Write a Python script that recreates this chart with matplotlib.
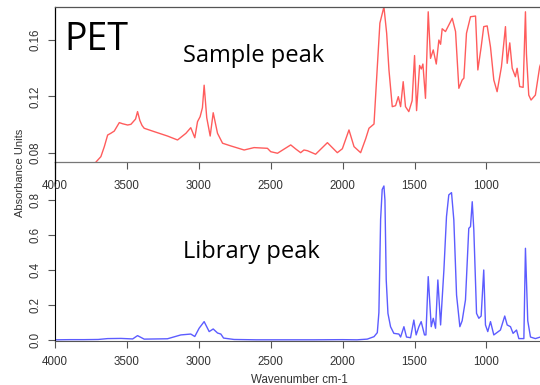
import matplotlib
matplotlib.use('Agg')
from matplotlib import pyplot as plt
from matplotlib.lines import Line2D

# sample (red) spectrum
sample_wn = [3730, 3715, 3681, 3657, 3634, 3611, 3588, 3553, 3530, 3495, 3472, 3440, 3426,
             3410, 3395, 3380, 3310, 3218, 3148, 3090, 3056, 3028, 3009, 2991, 2975, 2963,
             2945, 2921, 2900, 2870, 2835, 2778, 2685, 2616, 2523, 2500, 2453, 2361, 2326,
             2292, 2269, 2245, 2188, 2106, 2037, 2002, 1956, 1921, 1875, 1840, 1817, 1782,
             1759, 1741, 1713, 1694, 1678, 1655, 1632, 1613, 1597, 1579, 1563, 1540, 1517,
             1500, 1486, 1465, 1453, 1442, 1424, 1405, 1389, 1370, 1349, 1331, 1319, 1308,
             1285, 1238, 1215, 1192, 1169, 1157, 1139, 1111, 1076, 1060, 1037, 1019, 995,
             972, 949, 926, 896, 868, 856, 838, 821, 799, 787, 769, 745, 729, 722, 706, 690,
             660, 630, 600]
sample_abs = [0.0700, 0.0736, 0.0774, 0.0845, 0.0927, 0.0940, 0.0955, 0.1015, 0.1007, 0.0998,
              0.1003, 0.1040, 0.1093, 0.1030, 0.0995, 0.0975, 0.0951, 0.0920, 0.0892, 0.0939,
              0.0979, 0.0908, 0.1022, 0.1057, 0.1120, 0.1280, 0.1050, 0.0920, 0.1085, 0.0939,
              0.0869, 0.0850, 0.0821, 0.0838, 0.0833, 0.0809, 0.0798, 0.0857, 0.0828, 0.0802,
              0.0821, 0.0816, 0.0791, 0.0873, 0.0802, 0.0830, 0.0963, 0.0845, 0.0802, 0.0900,
              0.0975, 0.1005, 0.1410, 0.1720, 0.1835, 0.1648, 0.1388, 0.1128, 0.1135, 0.1199,
              0.1128, 0.1305, 0.1128, 0.1093, 0.1170, 0.1490, 0.1100, 0.1420, 0.1395, 0.1430,
              0.1187, 0.1800, 0.1470, 0.1530, 0.1430, 0.1600, 0.1570, 0.1680, 0.1660, 0.1754,
              0.1660, 0.1258, 0.1317, 0.1330, 0.1648, 0.1765, 0.1770, 0.1388, 0.1550, 0.1695,
              0.1700, 0.1550, 0.1317, 0.1234, 0.1410, 0.1695, 0.1435, 0.1580, 0.1400, 0.1340,
              0.1400, 0.1270, 0.1265, 0.1800, 0.1500, 0.1210, 0.1175, 0.1210, 0.1410, 0.1500]

# library (blue) spectrum
library_wn = [4000, 3900, 3800, 3700, 3634, 3541, 3460, 3426, 3380, 3218, 3125, 3056, 3028,
              2998, 2963, 2928, 2900, 2870, 2847, 2828, 2755, 2600, 2400, 2200, 2000, 1900,
              1829, 1782, 1759, 1748, 1736, 1725, 1713, 1706, 1697, 1685, 1667, 1644, 1609,
              1597, 1574, 1556, 1528, 1505, 1489, 1470, 1454, 1431, 1421, 1405, 1384, 1370,
              1354, 1338, 1319, 1296, 1278, 1262, 1243, 1227, 1208, 1185, 1169, 1146, 1123,
              1111, 1099, 1088, 1069, 1053, 1037, 1019, 1007, 991, 972, 949, 903, 873, 856,
              833, 815, 791, 775, 740, 729, 713, 694, 660, 625, 600]
library_abs = [0.001, 0.002, 0.002, 0.003, 0.008, 0.009, 0.006, 0.025, 0.005, 0.007, 0.029,
               0.034, 0.020, 0.067, 0.105, 0.048, 0.063, 0.040, 0.034, 0.011, 0.003, 0.001,
               0.001, 0.001, 0.002, 0.001, 0.005, 0.019, 0.042, 0.157, 0.690, 0.860, 0.880,
               0.800, 0.343, 0.152, 0.076, 0.038, 0.034, 0.017, 0.076, 0.017, 0.013, 0.114,
               0.029, 0.076, 0.105, 0.029, 0.029, 0.362, 0.076, 0.124, 0.067, 0.343, 0.086,
               0.400, 0.705, 0.829, 0.842, 0.686, 0.257, 0.076, 0.110, 0.229, 0.638, 0.648,
               0.790, 0.629, 0.152, 0.124, 0.137, 0.400, 0.086, 0.048, 0.105, 0.029, 0.057,
               0.137, 0.086, 0.076, 0.038, 0.057, 0.008, 0.008, 0.524, 0.110, 0.017, 0.008,
               0.017, 0.010]

x_ticks = [4000, 3500, 3000, 2500, 2000, 1500, 1000]
top_yticks = [0.08, 0.12, 0.16]
bottom_yticks = [0.0, 0.2, 0.4, 0.6, 0.8]

W, H = 540, 385
fig = plt.figure(figsize=(W / 100, H / 100), dpi=100)

def px(x0, y0, x1, y1):
    # pixel box (left, top, right, bottom) -> figure fraction rect
    return [x0 / W, 1 - y1 / H, (x1 - x0) / W, (y1 - y0) / H]

tick_font = dict(family='Liberation Sans', size=8.3, color='#333333')

ax2 = fig.add_axes(px(55, 183, 544, 340.7))
ax2.set_facecolor('none')
ax2.plot(library_wn, library_abs, color='#5c5cff', lw=1.0)
ax2.set_xlim(4000, 600)
ax2.set_ylim(-0.004, 0.897)
ax2.set_xticks(x_ticks)
ax2.set_yticks(bottom_yticks)
ax2.set_yticklabels([f'{v:.1f}' for v in bottom_yticks], rotation=90, va='center', **tick_font)
ax2.set_xticklabels([str(v) for v in x_ticks], **tick_font)
ax2.tick_params(axis='x', length=5, width=0.8, pad=6, color='#555555')
ax2.tick_params(axis='y', length=5, width=0.8, pad=5, color='#555555')
ax2.spines['top'].set_visible(False)
ax2.spines['right'].set_visible(False)
ax2.spines['left'].set_color('black')
ax2.spines['bottom'].set_color('#555555')
ax2.set_xlabel('Wavenumber cm-1', fontfamily='Liberation Sans', fontsize=8.3,
               color='#333333', labelpad=4)

ax1 = fig.add_axes(px(55, 7, 544, 162))
ax1.set_facecolor('none')
ax1.plot(sample_wn, sample_abs, color='#ff5c5c', lw=1.0)
ax1.set_xlim(4000, 600)
ax1.set_ylim(0.0736, 0.1834)
ax1.set_xticks(x_ticks)
ax1.set_yticks(top_yticks)
ax1.set_yticklabels([f'{v:.2f}' for v in top_yticks], rotation=90, va='center', **tick_font)
ax1.set_xticklabels([str(v) for v in x_ticks], **tick_font)
ax1.tick_params(axis='x', length=5, width=0.8, pad=8, color='#555555')
ax1.tick_params(axis='y', length=5, width=0.8, pad=5, color='#555555')
ax1.spines['left'].set_color('black')
ax1.spines['top'].set_color('#555555')
ax1.spines['bottom'].set_color('#777777')
ax1.spines['right'].set_color('#555555')
for s in ax1.spines.values():
    s.set_linewidth(0.9)

# left spine runs through the gap between the panels
fig.add_artist(Line2D([55 / W, 55 / W], [1 - 183 / H, 1 - 162 / H],
                      transform=fig.transFigure, color='black', lw=0.9))

fig.text(20 / W, 1 - 173 / H, 'Absorbance Units', rotation=90, ha='center', va='center',
         fontfamily='Liberation Sans', fontsize=8, color='#333333')

fig.text(64 / W, 1 - 50 / H, 'PET', fontfamily='Open Sans', fontsize=27,
         ha='left', va='baseline')
fig.text(183 / W, 1 - 62 / H, 'Sample peak', fontfamily='Open Sans', fontsize=17,
         ha='left', va='baseline')
fig.text(183 / W, 1 - 258 / H, 'Library peak', fontfamily='Open Sans', fontsize=17,
         ha='left', va='baseline')

fig.savefig('out.png', dpi=100)
